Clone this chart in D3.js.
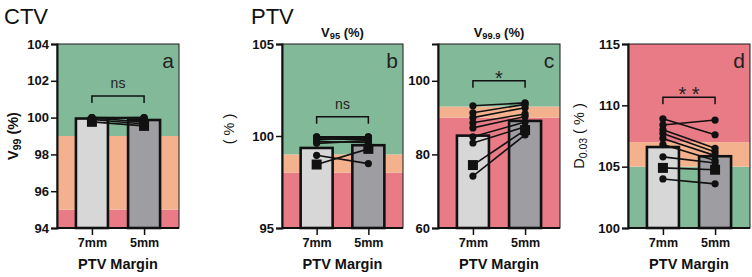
<!DOCTYPE html>
<html><head><meta charset="utf-8">
<script src="https://cdn.jsdelivr.net/npm/d3@7"></script>
<style>body{margin:0;background:#fff}svg{display:block;font-family:"Liberation Sans",Arial,sans-serif}</style>
</head><body>
<svg id="chart" width="752" height="277"></svg>
<script>
// ---------- data ----------
const margins = ["7mm", "5mm"];

// Panel a: CTV V99 (%)
const aTicks = [94, 96, 98, 100, 102, 104];
const aBars = [99.95, 99.87];
const aPairs = [[100, 100], [100, 99.97], [99.97, 100], [99.9, 99.65], [100, 99.75]];
const aSquare = [99.77, 99.55];
const aZones = [[94, 95, "red"], [95, 99, "orange"], [99, 104, "green"]];
const aSig = "ns";

// Panel b: PTV V95 (%)
const bTicks = [95, 100, 105];
const bBars = [99.35, 99.5];
const bPairs = [[99.95, 99.95], [99.95, 99.9], [99.9, 99.95], [99.85, 99.8], [99.8, 99.9], [99.7, 99.65], [99.6, 99.75], [98.95, 98.5]];
const bSquare = [98.45, 99.3];
const bZones = [[95, 98, "red"], [98, 99, "orange"], [99, 105, "green"]];
const bSig = "ns";

// Panel c: PTV V99.9 (%)
const cTicks = [60, 80, 100];
const cBars = [85.1, 89.1];
const cPairs = [[93.2, 94.0], [91.3, 93.6], [90.0, 92.7], [88.6, 91.0], [87.2, 90.3], [84.8, 88.8], [83.1, 87.5], [74.1, 85.3]];
const cSquare = [77.1, 86.6];
const cZones = [[60, 90, "red"], [90, 93, "orange"], [93, 110, "green"]];
const cSig = "*";

// Panel d: PTV D0.03 (%)
const dTicks = [100, 105, 110, 115];
const dBars = [106.6, 105.85];
const dPairs = [[108.9, 107.6], [108.4, 108.8], [108.0, 106.5], [107.7, 106.2], [107.3, 105.9], [106.8, 105.5], [105.8, 105.3], [104.0, 103.6]];
const dSquare = [104.9, 104.75];
const dZones = [[100, 105, "green"], [105, 107, "orange"], [107, 115, "red"]];
const dSig = "* *";

// ---------- style ----------
const zoneColor = {green: "#82b999", orange: "#f3b28d", red: "#e87b86"};
const barFill = ["#d7d7d7", "#9d9da2"];

const panels = [
  {x0: 57, x1: 179, dom: [94, 104], ticks: aTicks, bars: aBars, pairs: aPairs, sq: aSquare, zones: aZones, sig: aSig, sigY: 101.17, letter: "a",
   ylab: [{t: "V", b: true}, {t: "99", sub: true, b: true}, {t: " (%)", b: true}], ylabX: 18},
  {x0: 282, x1: 403, dom: [95, 105], ticks: bTicks, bars: bBars, pairs: bPairs, sq: bSquare, zones: bZones, sig: bSig, sigY: 101.05, letter: "b",
   ylab: [{t: "( % )"}], ylabX: 234, ylabDy: -7, title: [{t: "V"}, {t: "95", sub: true}, {t: " (%)"}]},
  {x0: 438, x1: 560, dom: [60, 110], ticks: cTicks, bars: cBars, pairs: cPairs, sq: cSquare, zones: cZones, sig: cSig, sigY: 100, letter: "c",
   title: [{t: "V"}, {t: "99.9", sub: true}, {t: " (%)"}]},
  {x0: 628, x1: 750, dom: [100, 115], ticks: dTicks, bars: dBars, pairs: dPairs, sq: dSquare, zones: dZones, sig: dSig, sigY: 110.65, letter: "d",
   ylab: [{t: "D"}, {t: "0.03", sub: true}, {t: " ( % )"}], ylabX: 584}
];

const svg = d3.select("#chart");
const yTop = 44, yBot = 228;

svg.append("text").attr("x", 4).attr("y", 24).attr("font-size", 22).attr("fill", "#111").text("CTV");
svg.append("text").attr("x", 251).attr("y", 24).attr("font-size", 22).attr("fill", "#111").text("PTV");

function richText(sel, parts, size) {
  parts.forEach(p => {
    const ts = sel.append("tspan").text(p.t);
    if (p.b) ts.attr("font-weight", "bold");
    if (p.sub) ts.attr("font-size", size * 0.72).attr("baseline-shift", "-25%");
  });
}

panels.forEach(P => {
  const g = svg.append("g");
  const y = d3.scaleLinear().domain(P.dom).range([yBot, yTop]);
  const x = d3.scalePoint().domain(margins).range([P.x0, P.x1]).padding(0.67);
  const bw = 32;

  // zones
  g.selectAll("rect.zone").data(P.zones).join("rect")
    .attr("x", P.x0).attr("width", P.x1 - P.x0)
    .attr("y", d => y(d[1])).attr("height", d => y(d[0]) - y(d[1]))
    .attr("fill", d => zoneColor[d[2]]);
  // frame
  g.append("rect").attr("x", P.x0).attr("y", yTop).attr("width", P.x1 - P.x0).attr("height", yBot - yTop)
    .attr("fill", "none").attr("stroke", "#1a1a1a").attr("stroke-width", 1);

  // bars
  g.selectAll("rect.bar").data(P.bars).join("rect")
    .attr("x", (d, i) => x(margins[i]) - bw / 2).attr("width", bw)
    .attr("y", d => y(d)).attr("height", d => yBot - y(d))
    .attr("fill", (d, i) => barFill[i]).attr("stroke", "#111").attr("stroke-width", 2.6);

  // paired lines
  const allPairs = P.pairs.concat([P.sq]);
  g.selectAll("line.pair").data(allPairs).join("line")
    .attr("x1", x(margins[0])).attr("x2", x(margins[1]))
    .attr("y1", d => y(d[0])).attr("y2", d => y(d[1]))
    .attr("stroke", "#111").attr("stroke-width", 1.6);
  P.pairs.forEach(pr => {
    pr.forEach((v, i) => g.append("circle").attr("cx", x(margins[i])).attr("cy", y(v)).attr("r", 3.6).attr("fill", "#111"));
  });
  P.sq.forEach((v, i) => g.append("rect").attr("x", x(margins[i]) - 5).attr("y", y(v) - 5).attr("width", 10).attr("height", 10).attr("fill", "#111"));

  // significance bracket
  const by = y(P.sigY), xa = x(margins[0]), xb = x(margins[1]);
  g.append("path").attr("d", `M${xa},${by + 7}V${by}H${xb}V${by + 7}`).attr("fill", "none").attr("stroke", "#111").attr("stroke-width", 1.5);
  const isNs = P.sig === "ns";
  g.append("text").attr("x", (xa + xb) / 2).attr("y", isNs ? by - 8 : by + 4).attr("text-anchor", "middle")
    .attr("font-size", isNs ? 14 : 20).attr("fill", "#222").text(P.sig);

  // letter
  g.append("text").attr("x", P.x1 - 11).attr("y", 68).attr("text-anchor", "middle").attr("font-size", 21).attr("fill", "#222").text(P.letter);

  // y axis
  const ya = g.append("g").attr("transform", `translate(${P.x0},0)`)
    .call(d3.axisLeft(y).tickValues(P.ticks).tickSize(6).tickPadding(2).tickFormat(d3.format("d")));
  ya.select(".domain").attr("stroke", "#111").attr("stroke-width", 2);
  ya.selectAll(".tick line").attr("stroke", "#111").attr("stroke-width", 1.5);
  ya.selectAll(".tick text").attr("font-size", 13).attr("font-weight", "bold").attr("fill", "#111").attr("font-family", "Liberation Sans, Arial, sans-serif");

  // x axis
  const xa2 = g.append("g").attr("transform", `translate(0,${yBot})`).call(d3.axisBottom(x).tickSize(7).tickPadding(3));
  xa2.select(".domain").attr("stroke", "#111").attr("stroke-width", 2).attr("d", `M${P.x0},0H${P.x1}`);
  xa2.selectAll(".tick line").attr("stroke", "#111").attr("stroke-width", 1.5);
  xa2.selectAll(".tick text").attr("font-size", 12.5).attr("font-weight", "bold").attr("fill", "#111").attr("font-family", "Liberation Sans, Arial, sans-serif");

  g.append("text").attr("x", (P.x0 + P.x1) / 2).attr("y", 269).attr("text-anchor", "middle")
    .attr("font-size", 14.5).attr("font-weight", "bold").attr("fill", "#111").text("PTV Margin");

  if (P.title) {
    const t = g.append("text").attr("x", (P.x0 + P.x1) / 2).attr("y", 37).attr("text-anchor", "middle")
      .attr("font-size", 13).attr("font-weight", "bold").attr("fill", "#111");
    richText(t, P.title, 13);
  }
  if (P.ylab) {
    const t = g.append("text").attr("transform", `translate(${P.ylabX},${(yTop + yBot) / 2 + (P.ylabDy || 0)}) rotate(-90)`)
      .attr("text-anchor", "middle").attr("font-size", 14.5).attr("fill", "#111");
    richText(t, P.ylab, 14.5);
  }
});
</script>
</body></html>
